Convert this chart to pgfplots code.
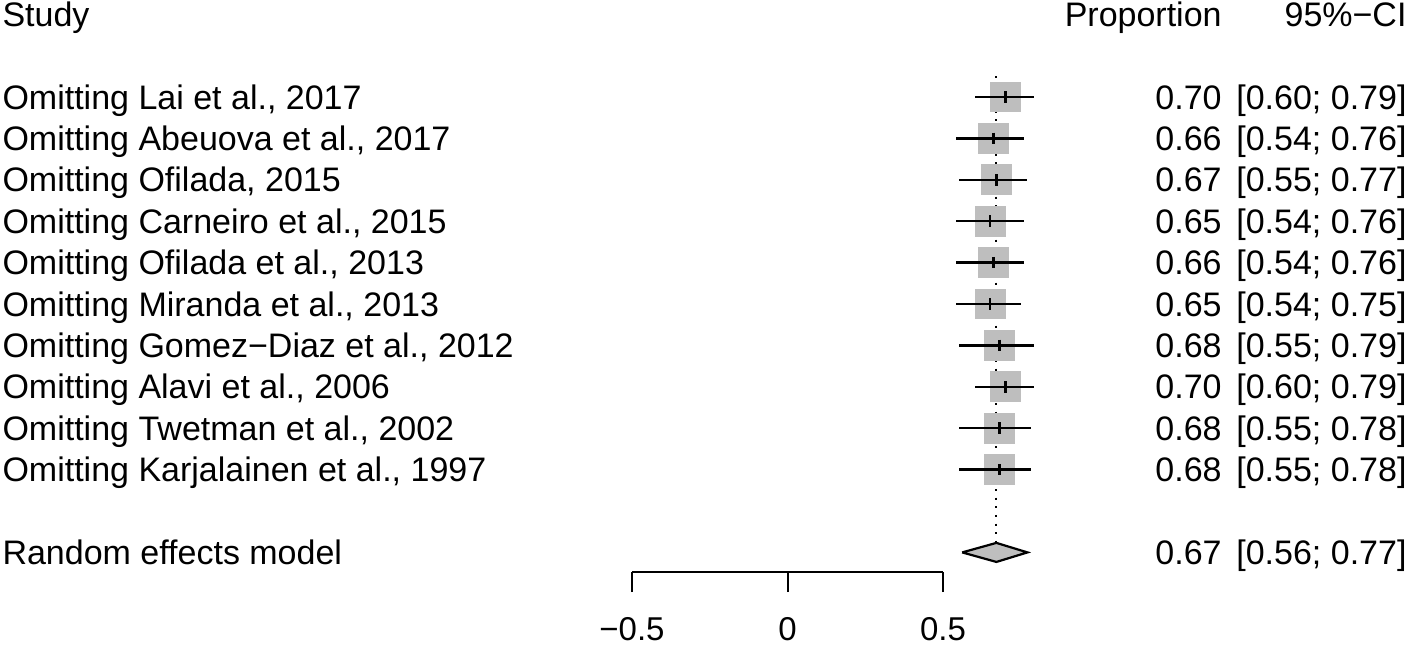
\documentclass[border=0pt]{standalone}
\usepackage{pgfplots}
\pgfplotsset{compat=1.18}
\usepackage{pgfplotstable}
\usepackage{fontspec}
\setmainfont{Liberation Sans}
\definecolor{sq}{HTML}{BEBEBE}
\newcommand\ff{\fontsize{17}{20}\selectfont}

% leave-one-out estimates: row, estimate, lower, upper
\pgfplotstableread{
row est lo hi
1  0.70 0.60 0.79
2  0.66 0.54 0.76
3  0.67 0.55 0.77
4  0.65 0.54 0.76
5  0.66 0.54 0.76
6  0.65 0.54 0.75
7  0.68 0.55 0.79
8  0.70 0.60 0.79
9  0.68 0.55 0.78
10 0.68 0.55 0.78
}\loo

% one text row: row, study, proportion, CI
\newcommand\trow[4]{%
  \node[anchor=base west, yshift=-6pt, inner sep=0pt] at (axis cs:-2.527,#1) {\ff #2};
  \node[anchor=base east, yshift=-6pt, inner sep=0pt] at (axis cs:1.3955,#1) {\ff #3};
  \node[anchor=base east, yshift=-6pt, inner sep=0pt] at (axis cs:1.990,#1) {\ff #4};}

\begin{document}
\begin{tikzpicture}
\path[use as bounding box] (0,0) rectangle (709pt,324pt);
\begin{axis}[
    at={(0,0)}, anchor=south west,
    width=709pt, height=324pt, scale only axis,
    xmin=-2.5338, xmax=2.0257,
    ymin=-1.343, ymax=14.309, y dir=reverse,
    hide axis, clip=false,
    ]
  % pooled estimate line (behind the squares)
  \addplot[black, line width=1pt, dash pattern=on 1pt off 3.3pt]
    coordinates {(0.67,0.5) (0.67,11.77)};
  % squares: a thick vertical bar, 15.5pt wide and 15.5pt tall
  \addplot[draw=none, mark=none,
           error bars/.cd, y dir=both, y fixed=0.374, error mark=none,
           error bar style={line width=15.5pt, sq, line cap=butt}]
    table[x=est, y=row] {\loo};
  % confidence intervals with estimate ticks
  \addplot[black, only marks, mark=|, mark size=2.9pt,
           mark options={solid, line width=1.3pt, black},
           error bars/.cd, x dir=both, x explicit, error mark=none,
           error bar style={line width=1.2pt, black}]
    table[x=est, y=row,
          x error plus expr=\thisrow{hi}-\thisrow{est},
          x error minus expr=\thisrow{est}-\thisrow{lo}] {\loo};
  % random effects diamond
  \addplot[fill=sq, draw=black, line width=1.1pt]
    coordinates {(0.56,12) (0.67,11.77) (0.77,12) (0.67,12.23) (0.56,12)};

  \trow{-1}{Study}{Proportion}{95\%−CI}
  \trow{1}{Omitting Lai et al., 2017}{0.70}{[0.60; 0.79]}
  \trow{2}{Omitting Abeuova et al., 2017}{0.66}{[0.54; 0.76]}
  \trow{3}{Omitting Ofilada, 2015}{0.67}{[0.55; 0.77]}
  \trow{4}{Omitting Carneiro et al., 2015}{0.65}{[0.54; 0.76]}
  \trow{5}{Omitting Ofilada et al., 2013}{0.66}{[0.54; 0.76]}
  \trow{6}{Omitting Miranda et al., 2013}{0.65}{[0.54; 0.75]}
  \trow{7}{Omitting Gomez−Diaz et al., 2012}{0.68}{[0.55; 0.79]}
  \trow{8}{Omitting Alavi et al., 2006}{0.70}{[0.60; 0.79]}
  \trow{9}{Omitting Twetman et al., 2002}{0.68}{[0.55; 0.78]}
  \trow{10}{Omitting Karjalainen et al., 1997}{0.68}{[0.55; 0.78]}
  \trow{12}{Random effects model}{0.67}{[0.56; 0.77]}
\end{axis}

% scale axis
\begin{axis}[
    at={(316pt,38pt)}, anchor=south west,
    width=155.5pt, height=10pt, scale only axis,
    xmin=-0.5, xmax=0.5, ymin=0, ymax=1,
    axis x line*=bottom, axis y line=none,
    axis line style={line width=1pt},
    xtick={-0.5,0,0.5}, xticklabels={−0.5,0,0.5},
    tick align=outside, major tick length=10pt,
    xtick style={line width=1pt, black},
    xticklabel style={font=\fontsize{16.5}{19}\selectfont, anchor=north,
                      inner sep=0pt, yshift=-12.5pt},
    ]
  \addplot[draw=none] coordinates {(0,0)};
\end{axis}
\end{tikzpicture}
\end{document}
